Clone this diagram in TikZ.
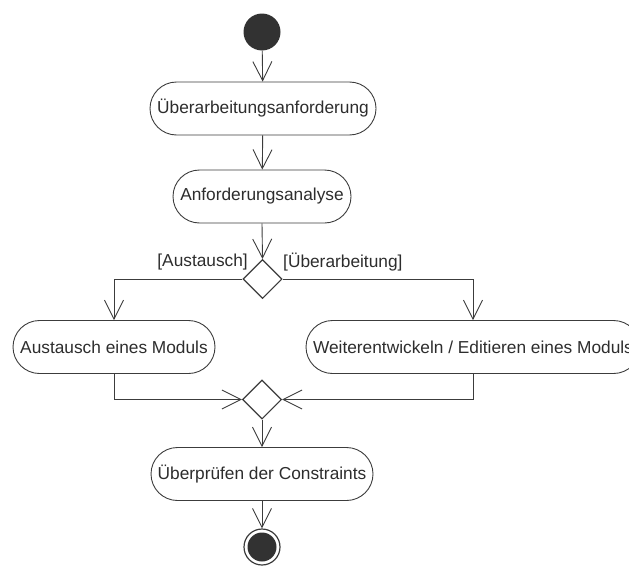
\documentclass[tikz,border=0pt]{standalone}
\usepackage{fontspec}
\setmainfont{Liberation Sans}
\usetikzlibrary{arrows.meta,shapes.geometric}
\definecolor{ink}{RGB}{60,60,60}
\definecolor{txt}{RGB}{45,45,45}
\definecolor{dot}{RGB}{50,50,50}
\begin{document}
\begin{tikzpicture}[x=1pt,y=-1pt,
  every node/.style={font=\fontsize{17.3}{20}\selectfont, text=txt},
  action/.style={draw=ink, line width=0.9pt, rounded corners=26.5pt,
    minimum height=53pt, inner xsep=4pt, fill=white},
  decision/.style={draw=ink, line width=1.1pt, diamond, minimum width=39pt,
    minimum height=39pt, inner sep=0pt, fill=white},
  flow/.style={draw=ink, line width=0.9pt,
    -{Straight Barb[length=19pt,width=19pt,line width=0.9pt]}},
  guard/.style={inner sep=0pt},
]
\useasboundingbox (0,0) rectangle (629,570);
\clip (0,0) rectangle (629,570);

% start and end states
\node[circle, fill=dot, minimum size=37pt, inner sep=0pt] (start) at (262,32) {};
\node[circle, draw=ink, line width=1.2pt, fill=white, minimum size=36pt, inner sep=0pt] (stop) at (262,547) {};
\fill[dot] (stop.center) circle (14.5pt);

% actions
\node[action, minimum width=226pt] (req) at (263,108.5) {Überarbeitungsanforderung};
\node[action, minimum width=178pt] (ana) at (262,196.5) {Anforderungsanalyse};
\node[action, minimum width=202pt] (swap) at (114,347) {Austausch eines Moduls};
\node[action, minimum width=334pt] (edit) at (473,347) {Weiterentwickeln / Editieren eines Moduls};
\node[action, minimum width=222pt] (check) at (262,474) {Überprüfen der Constraints};

% decision and merge
\node[decision] (dec) at (262.5,279) {};
\node[decision] (mrg) at (262,399.5) {};

% guards
\node[guard, anchor=east] (g1) at (248,262) {[Austausch]};
\node[guard, anchor=west] (g2) at (283,262) {[Überarbeitung]};

% control flow
\draw[flow] (start) -- (req);
\draw[flow] (req) -- (ana);
\draw[flow] (ana.south) -- (dec.north);
\draw[flow] (dec.west) -| (swap.north);
\draw[flow] (dec.east) -| (edit.north);
\draw[flow] (swap.south) |- (mrg.west);
\draw[flow] (edit.south) |- (mrg.east);
\draw[flow] (mrg.south) -- (check.north);
\draw[flow] (check.south) -- (stop.north);
\end{tikzpicture}
\end{document}
